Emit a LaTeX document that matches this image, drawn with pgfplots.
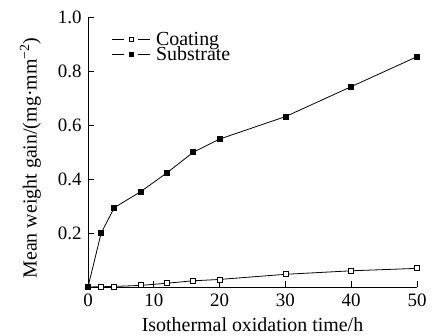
\documentclass[border=0pt]{standalone}
\usepackage{fontspec}
\setmainfont{Liberation Serif}
\usepackage{pgfplots}
\pgfplotsset{compat=1.18}
\begin{document}
\begin{tikzpicture}[font=\fontsize{19}{22}\selectfont]
\begin{axis}[
  at={(0,0)}, anchor=south west,
  scale only axis, width=329bp, height=270bp,
  xmin=0, xmax=50, ymin=0, ymax=1.0,
  axis lines*=left,
  axis line style={line width=0.8pt, -},
  tick align=inside,
  major tick length=6bp,
  tick style={line width=0.8pt, black},
  xtick={0,10,20,30,40,50},
  ytick={0.2,0.4,0.6,0.8,1.0},
  /pgf/number format/assume math mode=true,
  tick label style={font=\fontsize{19}{22}\selectfont},
  xticklabel style={yshift=-3bp},
  yticklabel style={xshift=-3bp, /pgf/number format/.cd, fixed, fixed zerofill, precision=1},
  xlabel={Isothermal oxidation time/h},
  ylabel={Mean weight gain/(mg·mm\textsuperscript{−2})},
  xlabel style={font=\fontsize{20}{24}\selectfont, at={(axis description cs:0.5,0)}, anchor=base, yshift=-44.5bp},
  ylabel style={font=\fontsize{20}{24}\selectfont, at={(axis description cs:-0.156,0.478)}, anchor=base},
  clip=false,
  legend style={draw=none, fill=none, at={(rel axis cs:0.072,0.944)}, anchor=north west,
    row sep=0pt, inner sep=0pt, font=\fontsize{20}{24}\selectfont,
    cells={anchor=west}, nodes={inner xsep=0pt, inner ysep=0pt},
    /tikz/every odd column/.style={column sep=6bp}},
  legend image code/.code={
    \draw[#1, mark=none] (0cm,0cm) -- (0.42cm,0cm);
    \draw[#1, mark=none] (0.9cm,0cm) -- (1.32cm,0cm);
    \draw[#1, mark size=2bp] plot coordinates {(0.66cm,0cm)};},
]
\addplot[black, line width=0.8pt, mark=square*, mark size=2.5bp, mark options={fill=white, line width=0.8pt}]
  coordinates {(0,0) (2,0.001) (4,0.002) (8,0.006) (12,0.014) (16,0.023) (20,0.028) (30,0.047) (40,0.060) (50,0.069)};
\addlegendentry{Coating}
\addplot[black, line width=0.8pt, mark=square*, mark size=2.5bp, mark options={fill=black}]
  coordinates {(0,0) (2,0.200) (4,0.294) (8,0.353) (12,0.423) (16,0.499) (20,0.548) (30,0.631) (40,0.742) (50,0.853)};
\addlegendentry{Substrate}
\end{axis}
\pgfresetboundingbox
\path (-88bp,-49bp) rectangle (350bp,287bp);
\end{tikzpicture}
\end{document}
